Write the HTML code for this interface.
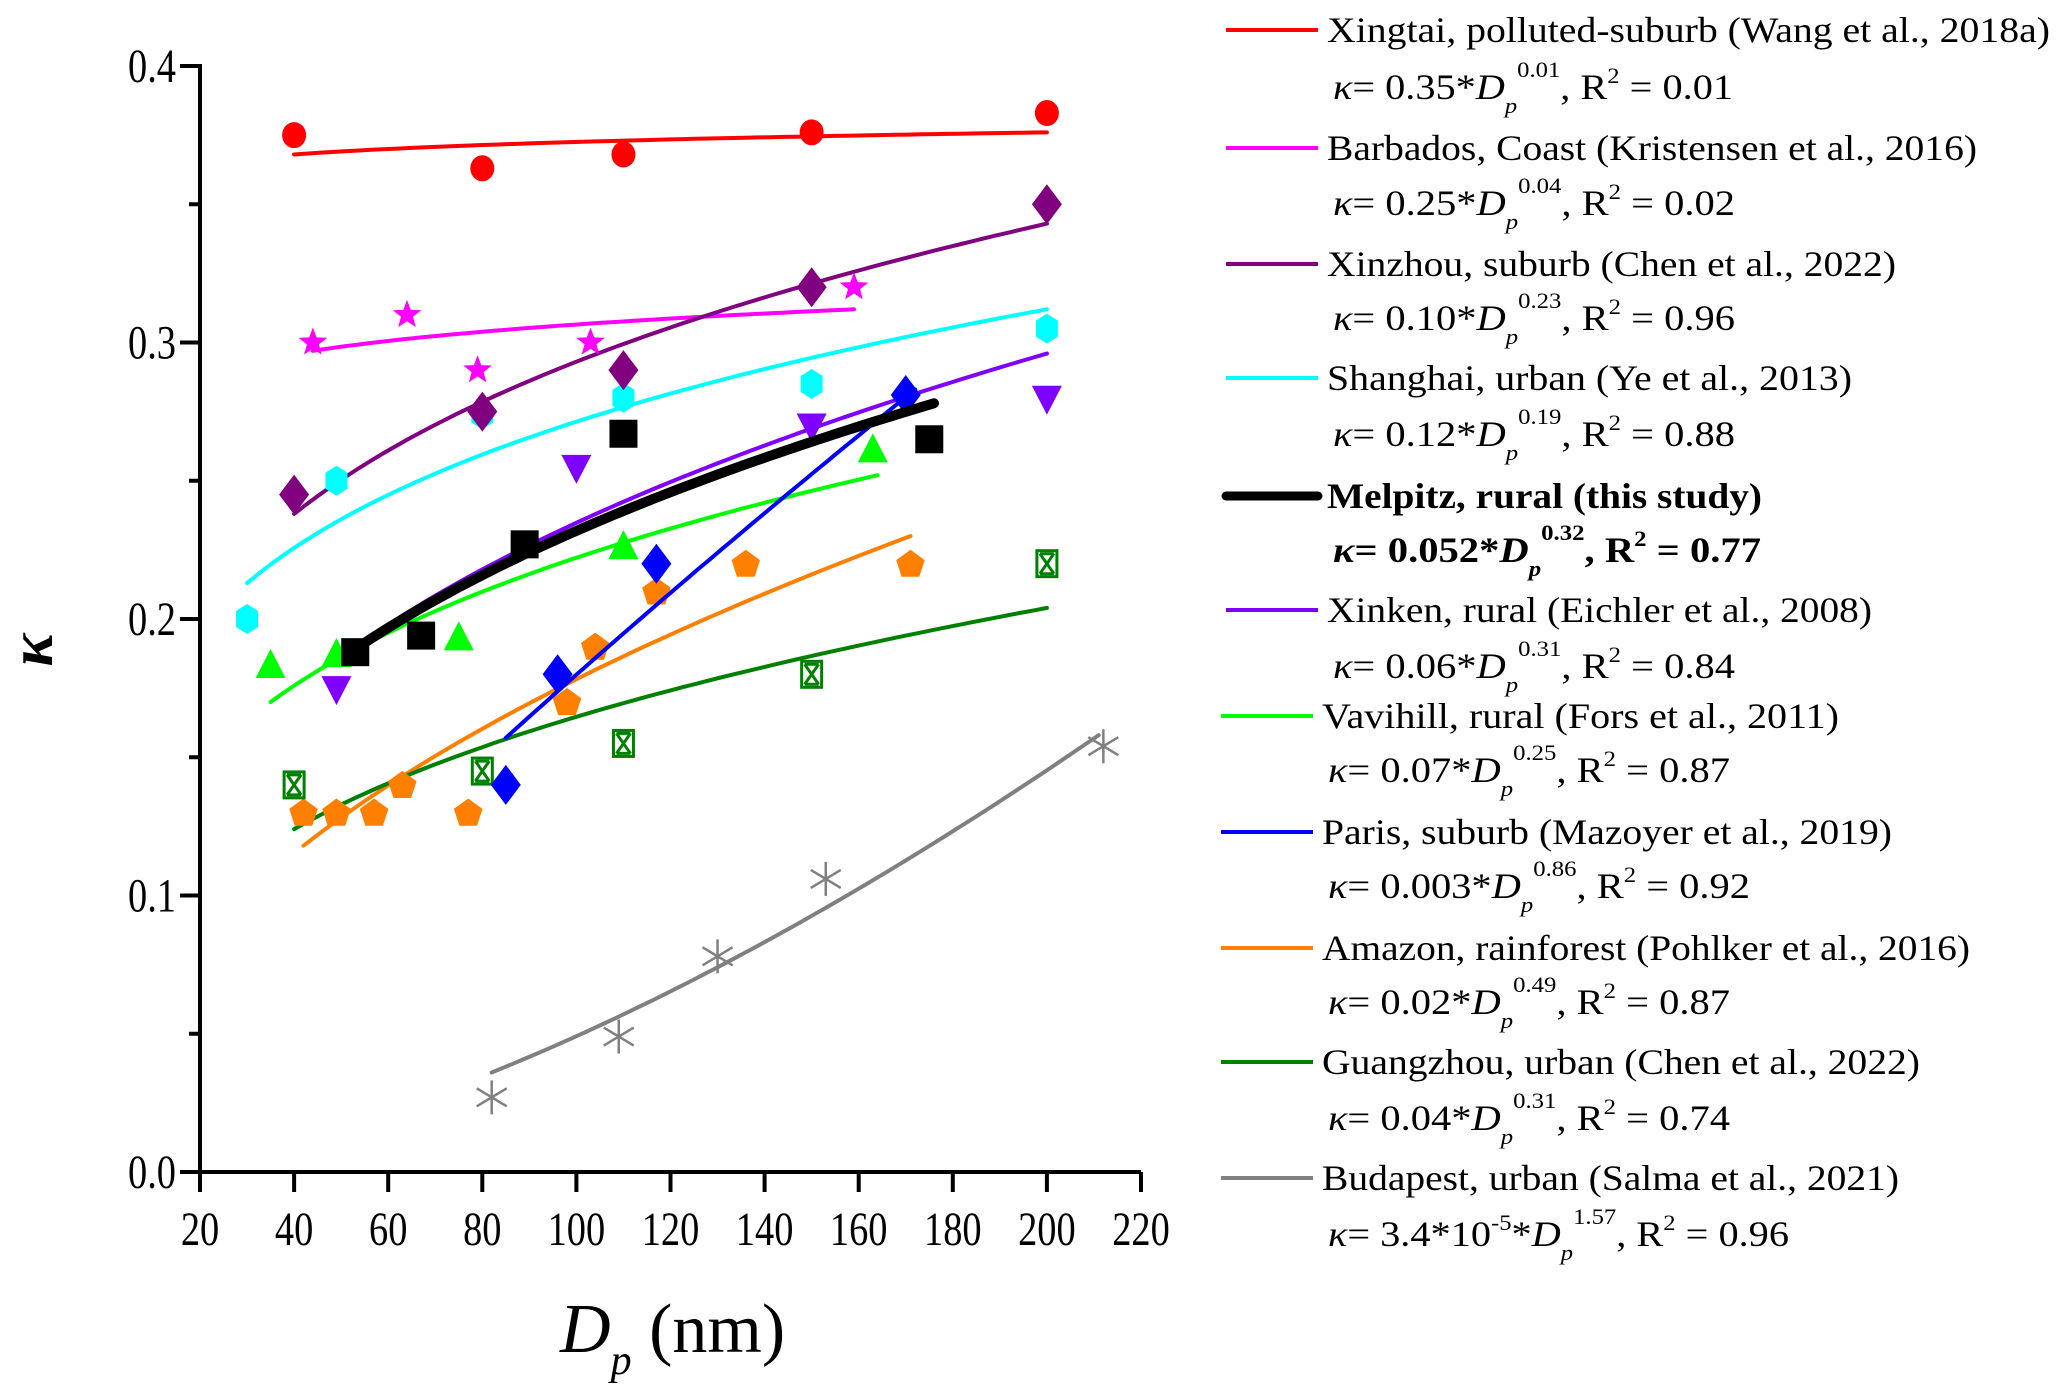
<!DOCTYPE html>
<html><head><meta charset="utf-8">
<style>
html,body{margin:0;padding:0;background:#fff;}
svg{display:block;font-family:"Liberation Serif","DejaVu Serif",serif;}
</style></head>
<body>
<svg id="chart" width="2067" height="1400" viewBox="0 0 2067 1400" xmlns="http://www.w3.org/2000/svg">
<g id="axes"></g>
<g id="fits"></g>
<g id="marks"></g>
<g id="toplines"></g>
<text x="52" y="650" font-size="62" font-style="italic" font-weight="bold" text-anchor="middle" transform="rotate(-90 52 650)">κ</text>
<text x="560" y="1352" font-size="70"><tspan font-style="italic">D</tspan><tspan font-size="42" font-style="italic" dy="22">p</tspan><tspan dy="-22"> (nm)</tspan></text>
<g id="legend">
 <g>
  <line x1="1226" y1="30" x2="1318" y2="30" stroke="#ff0000" stroke-width="4"/>
  <text x="1327" y="42" font-size="36" textLength="723" lengthAdjust="spacingAndGlyphs">Xingtai, polluted-suburb (Wang et al., 2018a)</text>
  <text x="1333" y="99" font-size="36" textLength="400" lengthAdjust="spacingAndGlyphs"><tspan font-style="italic">κ</tspan>= 0.35*<tspan font-style="italic">D</tspan><tspan font-style="italic" font-size="22" dy="14">p</tspan><tspan font-size="22" dy="-36">0.01</tspan><tspan dy="22">, R</tspan><tspan font-size="22" dy="-16">2</tspan><tspan dy="16"> = 0.01</tspan></text>
 </g>
 <g>
  <line x1="1226" y1="148" x2="1318" y2="148" stroke="#ff00ff" stroke-width="4"/>
  <text x="1327" y="160" font-size="36" textLength="650" lengthAdjust="spacingAndGlyphs">Barbados, Coast (Kristensen et al., 2016)</text>
  <text x="1333" y="215" font-size="36" textLength="402" lengthAdjust="spacingAndGlyphs"><tspan font-style="italic">κ</tspan>= 0.25*<tspan font-style="italic">D</tspan><tspan font-style="italic" font-size="22" dy="14">p</tspan><tspan font-size="22" dy="-36">0.04</tspan><tspan dy="22">, R</tspan><tspan font-size="22" dy="-16">2</tspan><tspan dy="16"> = 0.02</tspan></text>
 </g>
 <g>
  <line x1="1226" y1="264" x2="1318" y2="264" stroke="#800080" stroke-width="4"/>
  <text x="1327" y="276" font-size="36" textLength="569" lengthAdjust="spacingAndGlyphs">Xinzhou, suburb (Chen et al., 2022)</text>
  <text x="1333" y="330" font-size="36" textLength="402" lengthAdjust="spacingAndGlyphs"><tspan font-style="italic">κ</tspan>= 0.10*<tspan font-style="italic">D</tspan><tspan font-style="italic" font-size="22" dy="14">p</tspan><tspan font-size="22" dy="-36">0.23</tspan><tspan dy="22">, R</tspan><tspan font-size="22" dy="-16">2</tspan><tspan dy="16"> = 0.96</tspan></text>
 </g>
 <g>
  <line x1="1226" y1="378" x2="1318" y2="378" stroke="#00ffff" stroke-width="4"/>
  <text x="1327" y="390" font-size="36" textLength="525" lengthAdjust="spacingAndGlyphs">Shanghai, urban (Ye et al., 2013)</text>
  <text x="1333" y="446" font-size="36" textLength="402" lengthAdjust="spacingAndGlyphs"><tspan font-style="italic">κ</tspan>= 0.12*<tspan font-style="italic">D</tspan><tspan font-style="italic" font-size="22" dy="14">p</tspan><tspan font-size="22" dy="-36">0.19</tspan><tspan dy="22">, R</tspan><tspan font-size="22" dy="-16">2</tspan><tspan dy="16"> = 0.88</tspan></text>
 </g>
 <g>
  <line x1="1226" y1="496" x2="1318" y2="496" stroke="#000" stroke-width="9" stroke-linecap="round"/>
  <text x="1327" y="508" font-size="36" font-weight="bold" textLength="435" lengthAdjust="spacingAndGlyphs">Melpitz, rural (this study)</text>
  <text x="1333" y="562" font-size="36" font-weight="bold" textLength="428" lengthAdjust="spacingAndGlyphs"><tspan font-style="italic">κ</tspan>= 0.052*<tspan font-style="italic">D</tspan><tspan font-style="italic" font-size="22" dy="14">p</tspan><tspan font-size="22" dy="-36">0.32</tspan><tspan dy="22">, R</tspan><tspan font-size="22" dy="-16">2</tspan><tspan dy="16"> = 0.77</tspan></text>
 </g>
 <g>
  <line x1="1226" y1="610" x2="1318" y2="610" stroke="#8000ff" stroke-width="4"/>
  <text x="1327" y="622" font-size="36" textLength="545" lengthAdjust="spacingAndGlyphs">Xinken, rural (Eichler et al., 2008)</text>
  <text x="1333" y="678" font-size="36" textLength="402" lengthAdjust="spacingAndGlyphs"><tspan font-style="italic">κ</tspan>= 0.06*<tspan font-style="italic">D</tspan><tspan font-style="italic" font-size="22" dy="14">p</tspan><tspan font-size="22" dy="-36">0.31</tspan><tspan dy="22">, R</tspan><tspan font-size="22" dy="-16">2</tspan><tspan dy="16"> = 0.84</tspan></text>
 </g>
 <g>
  <line x1="1221" y1="716" x2="1313" y2="716" stroke="#00ff00" stroke-width="4"/>
  <text x="1322" y="728" font-size="36" textLength="517" lengthAdjust="spacingAndGlyphs">Vavihill, rural (Fors et al., 2011)</text>
  <text x="1328" y="782" font-size="36" textLength="402" lengthAdjust="spacingAndGlyphs"><tspan font-style="italic">κ</tspan>= 0.07*<tspan font-style="italic">D</tspan><tspan font-style="italic" font-size="22" dy="14">p</tspan><tspan font-size="22" dy="-36">0.25</tspan><tspan dy="22">, R</tspan><tspan font-size="22" dy="-16">2</tspan><tspan dy="16"> = 0.87</tspan></text>
 </g>
 <g>
  <line x1="1221" y1="832" x2="1313" y2="832" stroke="#0000ff" stroke-width="4"/>
  <text x="1322" y="844" font-size="36" textLength="570" lengthAdjust="spacingAndGlyphs">Paris, suburb (Mazoyer et al., 2019)</text>
  <text x="1328" y="898" font-size="36" textLength="422" lengthAdjust="spacingAndGlyphs"><tspan font-style="italic">κ</tspan>= 0.003*<tspan font-style="italic">D</tspan><tspan font-style="italic" font-size="22" dy="14">p</tspan><tspan font-size="22" dy="-36">0.86</tspan><tspan dy="22">, R</tspan><tspan font-size="22" dy="-16">2</tspan><tspan dy="16"> = 0.92</tspan></text>
 </g>
 <g>
  <line x1="1221" y1="948" x2="1313" y2="948" stroke="#ff8000" stroke-width="4"/>
  <text x="1322" y="960" font-size="36" textLength="648" lengthAdjust="spacingAndGlyphs">Amazon, rainforest (Pohlker et al., 2016)</text>
  <text x="1328" y="1014" font-size="36" textLength="402" lengthAdjust="spacingAndGlyphs"><tspan font-style="italic">κ</tspan>= 0.02*<tspan font-style="italic">D</tspan><tspan font-style="italic" font-size="22" dy="14">p</tspan><tspan font-size="22" dy="-36">0.49</tspan><tspan dy="22">, R</tspan><tspan font-size="22" dy="-16">2</tspan><tspan dy="16"> = 0.87</tspan></text>
 </g>
 <g>
  <line x1="1221" y1="1062" x2="1313" y2="1062" stroke="#008000" stroke-width="4"/>
  <text x="1322" y="1074" font-size="36" textLength="598" lengthAdjust="spacingAndGlyphs">Guangzhou, urban (Chen et al., 2022)</text>
  <text x="1328" y="1130" font-size="36" textLength="402" lengthAdjust="spacingAndGlyphs"><tspan font-style="italic">κ</tspan>= 0.04*<tspan font-style="italic">D</tspan><tspan font-style="italic" font-size="22" dy="14">p</tspan><tspan font-size="22" dy="-36">0.31</tspan><tspan dy="22">, R</tspan><tspan font-size="22" dy="-16">2</tspan><tspan dy="16"> = 0.74</tspan></text>
 </g>
 <g>
  <line x1="1221" y1="1178" x2="1313" y2="1178" stroke="#808080" stroke-width="4"/>
  <text x="1322" y="1190" font-size="36" textLength="577" lengthAdjust="spacingAndGlyphs">Budapest, urban (Salma et al., 2021)</text>
  <text x="1328" y="1246" font-size="36" textLength="461" lengthAdjust="spacingAndGlyphs"><tspan font-style="italic">κ</tspan>= 3.4*10<tspan font-size="22" dy="-16">-5</tspan><tspan dy="16">*</tspan><tspan font-style="italic">D</tspan><tspan font-style="italic" font-size="22" dy="14">p</tspan><tspan font-size="22" dy="-36">1.57</tspan><tspan dy="22">, R</tspan><tspan font-size="22" dy="-16">2</tspan><tspan dy="16"> = 0.96</tspan></text>
 </g>
</g>
</svg>
<script>
// ---- data ----
const xTicks = [20,40,60,80,100,120,140,160,180,200,220];
const yTicks = [0.0,0.1,0.2,0.3,0.4];
const yTickLabels = ["0.0","0.1","0.2","0.3","0.4"];
const yMinorTicks = [0.05,0.15,0.25,0.35];

const xingtaiD = [40,80,110,150,200];
const xingtaiK = [0.375,0.363,0.368,0.376,0.383];
const barbadosD = [44,64,79,103,159];
const barbadosK = [0.300,0.310,0.290,0.300,0.320];
const xinzhouD = [40,80,110,150,200];
const xinzhouK = [0.245,0.275,0.290,0.320,0.350];
const shanghaiD = [30,49,80,110,150,200];
const shanghaiK = [0.200,0.250,0.274,0.280,0.285,0.305];
const xinkenD = [49,100,150,200];
const xinkenK = [0.175,0.255,0.270,0.280];
const vavihillD = [35,49,75,110,163];
const vavihillK = [0.183,0.187,0.193,0.226,0.261];
const parisD = [85,96,117,170];
const parisK = [0.140,0.180,0.220,0.281];
const amazonD = [42,49,57,63,77,98,104,117,136,171];
const amazonK = [0.130,0.130,0.130,0.140,0.130,0.170,0.190,0.210,0.220,0.220];
const guangzhouD = [40,80,110,150,200];
const guangzhouK = [0.140,0.145,0.155,0.180,0.220];
const budapestD = [82,109,130,153,212];
const budapestK = [0.027,0.049,0.078,0.106,0.154];
const melpitzD = [53,67,89,110,175];
const melpitzK = [0.188,0.194,0.227,0.267,0.265];

// fit curve endpoints
const fitXingtaiD = [40,200];   const fitXingtaiK = [0.368,0.376];
const fitBarbadosD = [44,159];  const fitBarbadosK = [0.297,0.312];
const fitXinzhouD = [40,200];   const fitXinzhouK = [0.238,0.343];
const fitShanghaiD = [30,200];  const fitShanghaiK = [0.213,0.312];
const fitXinkenD = [49,200];    const fitXinkenK = [0.185,0.296];
const fitVavihillD = [35,164];  const fitVavihillK = [0.170,0.252];
const fitParisD = [85,172];     const fitParisK = [0.157,0.283];
const fitAmazonD = [42,171];    const fitAmazonK = [0.118,0.230];
const fitGuangzhouD = [40,200]; const fitGuangzhouK = [0.124,0.204];
const fitBudapestD = [82,211];  const fitBudapestK = [0.036,0.158];
const fitMelpitzD = [52,176];   const fitMelpitzK = [0.188,0.278];

// ---- scales ----
const X0=200, X1=1141, Y0=1172, Y1=66;
function xs(d){return X0+(d-20)/(220-20)*(X1-X0);}
function ys(k){return Y0-(k-0)/(0.4-0)*(Y0-Y1);}
const NS="http://www.w3.org/2000/svg";
function mk(tag,attrs,parent){const e=document.createElementNS(NS,tag);for(const k in attrs)e.setAttribute(k,attrs[k]);parent.appendChild(e);return e;}

// ---- axes ----
const ax=document.getElementById('axes');
let l=mk('line',{x1:X0,y1:Y1-2,x2:X0,y2:Y0+2,stroke:'#000','stroke-width':4},ax);


l=mk('line',{x1:X0-2,y1:Y0,x2:X1,y2:Y0,stroke:'#000','stroke-width':4},ax);


xTicks.forEach(t=>{
  const tk=mk('line',{x1:xs(t),y1:Y0,x2:xs(t),y2:Y0+20,stroke:'#000','stroke-width':4},ax);
  
  
  const g=mk('g',{transform:`translate(${xs(t)},1245) scale(0.8,1)`},ax);
  const tx=mk('text',{x:0,y:0,'font-size':48,'text-anchor':'middle'},g);
  tx.textContent=String(t);
  
  
});
yTicks.forEach((t,i)=>{
  const tk=mk('line',{x1:X0-20,y1:ys(t),x2:X0,y2:ys(t),stroke:'#000','stroke-width':4},ax);
  
  
  const g=mk('g',{transform:`translate(176,${ys(t)+16}) scale(0.8,1)`},ax);
  const tx=mk('text',{x:0,y:0,'font-size':48,'text-anchor':'end'},g);
  tx.textContent=yTickLabels[i];
  
  
});
yMinorTicks.forEach(t=>{
  const tk=mk('line',{x1:X0-11,y1:ys(t),x2:X0,y2:ys(t),stroke:'#000','stroke-width':4},ax);
  
  
});

// ---- fits ----
function fit(dArr,kArr,color,w,name,parent){
  const b=Math.log(kArr[1]/kArr[0])/Math.log(dArr[1]/dArr[0]);
  const a=kArr[0]/Math.pow(dArr[0],b);
  let p='';
  for(let i=0;i<=60;i++){const d=dArr[0]+(dArr[1]-dArr[0])*i/60;p+=(i?'L':'M')+xs(d).toFixed(1)+' '+ys(a*Math.pow(d,b)).toFixed(1);}
  const e=mk('path',{d:p,fill:'none',stroke:color,'stroke-width':w,'stroke-linecap':'round'},parent);
  
  
}
const fg=document.getElementById('fits');
fit(fitXingtaiD,fitXingtaiK,'#ff0000',4,'fit-xingtai',fg);
fit(fitBarbadosD,fitBarbadosK,'#ff00ff',4,'fit-barbados',fg);
fit(fitXinzhouD,fitXinzhouK,'#800080',4,'fit-xinzhou',fg);
fit(fitShanghaiD,fitShanghaiK,'#00ffff',4,'fit-shanghai',fg);
fit(fitXinkenD,fitXinkenK,'#8000ff',4,'fit-xinken',fg);
fit(fitVavihillD,fitVavihillK,'#00ff00',4,'fit-vavihill',fg);
fit(fitAmazonD,fitAmazonK,'#ff8000',4,'fit-amazon',fg);
fit(fitGuangzhouD,fitGuangzhouK,'#008000',4,'fit-guangzhou',fg);
fit(fitBudapestD,fitBudapestK,'#808080',4,'fit-budapest',fg);

// ---- markers ----
const mg=document.getElementById('marks');
function poly(cx,cy,r,n,rot,inner){
  let pts=[];const m=inner?n*2:n;
  for(let i=0;i<m;i++){const ang=rot+i*2*Math.PI/m;const rr=inner&&(i%2)?r*inner:r;pts.push((cx+rr*Math.sin(ang)).toFixed(1)+','+(cy-rr*Math.cos(ang)).toFixed(1));}
  return pts.join(' ');
}
function marker(type,d,k,color,name){
  const cx=xs(d),cy=ys(k);let e;
  if(type==='circle') e=mk('ellipse',{cx:cx,cy:cy,rx:12,ry:13,fill:color},mg);
  else if(type==='square') e=mk('rect',{x:cx-14,y:cy-14,width:28,height:28,fill:color},mg);
  else if(type==='diamond') e=mk('polygon',{points:`${cx},${cy-20} ${cx+15},${cy} ${cx},${cy+20} ${cx-15},${cy}`,fill:color},mg);
  else if(type==='star') e=mk('polygon',{points:poly(cx,cy,15,5,0,0.42),fill:color},mg);
  else if(type==='hexagon') e=mk('polygon',{points:`${cx},${cy-15} ${cx+11},${cy-8} ${cx+11},${cy+8} ${cx},${cy+15} ${cx-11},${cy+8} ${cx-11},${cy-8}`,fill:color},mg);
  else if(type==='tri') e=mk('polygon',{points:`${cx},${cy-17} ${cx+15},${cy+12} ${cx-15},${cy+12}`,fill:color},mg);
  else if(type==='dtri') e=mk('polygon',{points:`${cx},${cy+17} ${cx+15},${cy-12} ${cx-15},${cy-12}`,fill:color},mg);
  else if(type==='pentagon') e=mk('polygon',{points:poly(cx,cy+1,15,5,0,0),fill:color},mg);
  else if(type==='boxx'){
    e=mk('g',{stroke:color,'stroke-width':3,fill:'none'},mg);
    mk('rect',{x:cx-10,y:cy-13,width:20,height:26},e);
    mk('path',{d:`M${cx-7} ${cy-10}L${cx+7} ${cy+10}M${cx+7} ${cy-10}L${cx-7} ${cy+10}M${cx-7} ${cy-10}H${cx+7}M${cx-7} ${cy+10}H${cx+7}`},e);
  } else if(type==='asterisk'){
    e=mk('path',{d:`M${cx} ${cy-17}V${cy+17}M${cx-15} ${cy-9}L${cx+15} ${cy+9}M${cx+15} ${cy-9}L${cx-15} ${cy+9}`,stroke:color,'stroke-width':2.5,fill:'none'},mg);
  }
  
  
}
function series(type,D,K,color,name){D.forEach((d,i)=>marker(type,d,K[i],color,name));}
series('circle',xingtaiD,xingtaiK,'#ff0000','point-xingtai');
series('star',barbadosD,barbadosK,'#ff00ff','point-barbados');
series('hexagon',shanghaiD,shanghaiK,'#00ffff','point-shanghai');
series('diamond',xinzhouD,xinzhouK,'#800080','point-xinzhou');
series('dtri',xinkenD,xinkenK,'#8000ff','point-xinken');
series('tri',vavihillD,vavihillK,'#00ff00','point-vavihill');
series('pentagon',amazonD,amazonK,'#ff8000','point-amazon');
series('boxx',guangzhouD,guangzhouK,'#008000','point-guangzhou');
series('asterisk',budapestD,budapestK,'#808080','point-budapest');
series('square',melpitzD,melpitzK,'#000000','point-melpitz');
series('diamond',parisD,parisK,'#0000ff','point-paris');

const tg=document.getElementById('toplines');
fit(fitParisD,fitParisK,'#0000ff',4,'fit-paris',tg);
fit(fitMelpitzD,fitMelpitzK,'#000000',10,'fit-melpitz',tg);
</script>
</body></html>
